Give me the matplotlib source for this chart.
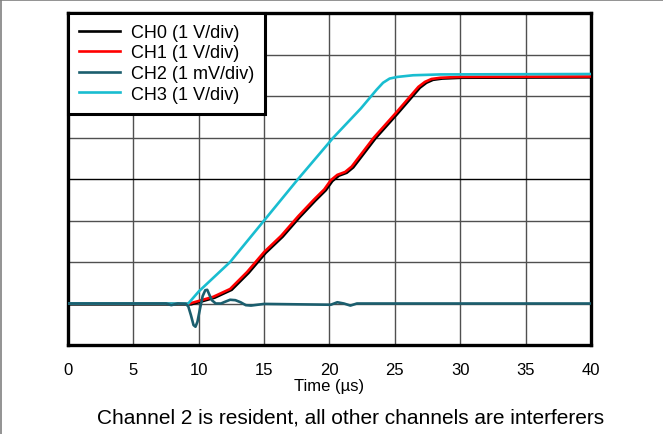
import numpy as np
import matplotlib.pyplot as plt
from matplotlib.lines import Line2D

plt.rcParams['font.family'] = ['Liberation Sans', 'DejaVu Sans']

# values in scope divisions (0..8), time in microseconds
ch1_t = [0, 9.3, 10.1, 11.1, 12.4, 13.7, 15.0, 16.3, 17.6, 18.8, 19.6, 20.1,
         20.6, 21.2, 21.7, 23.4, 25.1, 26.8, 27.3, 27.8, 28.5, 30, 40]
ch1_v = [1.0, 1.0, 1.07, 1.16, 1.35, 1.76, 2.24, 2.63, 3.1, 3.5, 3.75, 3.97,
         4.1, 4.17, 4.3, 5.0, 5.6, 6.22, 6.34, 6.41, 6.44, 6.46, 6.47]

ch0_t = [t + 0.12 for t in ch1_t]
ch0_v = [v - 0.02 for v in ch1_v]

ch2_t = [0, 7.5, 7.9, 8.4, 9.0, 9.2, 9.4, 9.6, 9.75, 9.9, 10.1, 10.3, 10.5,
         10.65, 10.8, 11.0, 11.3, 11.7, 12.0, 12.4, 12.8, 13.2, 13.6, 14.0,
         14.5, 15, 20.1, 20.6, 21.1, 21.6, 22.1, 23, 40]
ch2_v = [1.0, 1.0, 0.96, 1.0, 0.99, 0.93, 0.72, 0.48, 0.44, 0.56, 0.88, 1.18,
         1.32, 1.33, 1.22, 1.08, 1.0, 1.0, 1.04, 1.09, 1.08, 1.03, 0.96, 0.95,
         0.97, 0.99, 0.97, 1.03, 1.0, 0.95, 1.0, 1.0, 1.0]

ch3_t = [0, 9.2, 10.0, 12.4, 15.0, 17.6, 20.3, 22.4, 23.6, 24.1, 24.6, 25.2,
         26.4, 28.5, 40]
ch3_v = [1.0, 1.0, 1.29, 2.0, 3.0, 4.0, 5.0, 5.7, 6.15, 6.32, 6.42, 6.46,
         6.5, 6.52, 6.53]

x_ticks = [0, 5, 10, 15, 20, 25, 30, 35, 40]

fig = plt.figure(figsize=(6.63, 4.35), dpi=100)
ax = fig.add_axes([0.1026, 0.2046, 0.7887, 0.7632])

# grid
for x in x_ticks[1:-1]:
    ax.axvline(x, color='#505050', lw=1.0, zorder=1)
for y in range(1, 8):
    ax.axhline(y, color='black' if y == 4 else '#505050', lw=1.0, zorder=1)

ax.plot(ch0_t, ch0_v, color='black', lw=1.9, label='CH0 (1 V/div)', zorder=3)
ax.plot(ch1_t, ch1_v, color='#ff0000', lw=1.9, label='CH1 (1 V/div)', zorder=4)
ax.plot(ch2_t, ch2_v, color='#1b5e6e', lw=1.9, label='CH2 (1 mV/div)', zorder=5)
ax.plot(ch3_t, ch3_v, color='#19bdd0', lw=1.9, label='CH3 (1 V/div)', zorder=4)

ax.set_xlim(0, 40)
ax.set_ylim(0, 8)
ax.set_xticks(x_ticks)
ax.set_yticks([])
ax.tick_params(axis='x', length=0, pad=12, labelsize=12)
for s in ax.spines.values():
    s.set_linewidth(2.4)
ax.set_xlabel('Time (\u00b5s)', fontsize=12, labelpad=1)

leg = ax.legend(loc='upper left', borderaxespad=0, fontsize=13,
                handlelength=2.3, labelspacing=0.2, handletextpad=0.6,
                borderpad=0.6, fancybox=False, framealpha=1, edgecolor='black')
leg.get_frame().set_linewidth(2.2)
leg.set_zorder(10)

fig.text(0.529, 0.039, 'Channel 2 is resident, all other channels are interferers',
         ha='center', va='center', fontsize=15)

# figure border (top and left)
fig.add_artist(Line2D([0.002, 0.002], [0, 0.997], color='#808080', lw=1.2,
                      transform=fig.transFigure))
fig.add_artist(Line2D([0, 1], [0.997, 0.997], color='#808080', lw=1.2,
                      transform=fig.transFigure))

fig.savefig('out.png', dpi=100)
